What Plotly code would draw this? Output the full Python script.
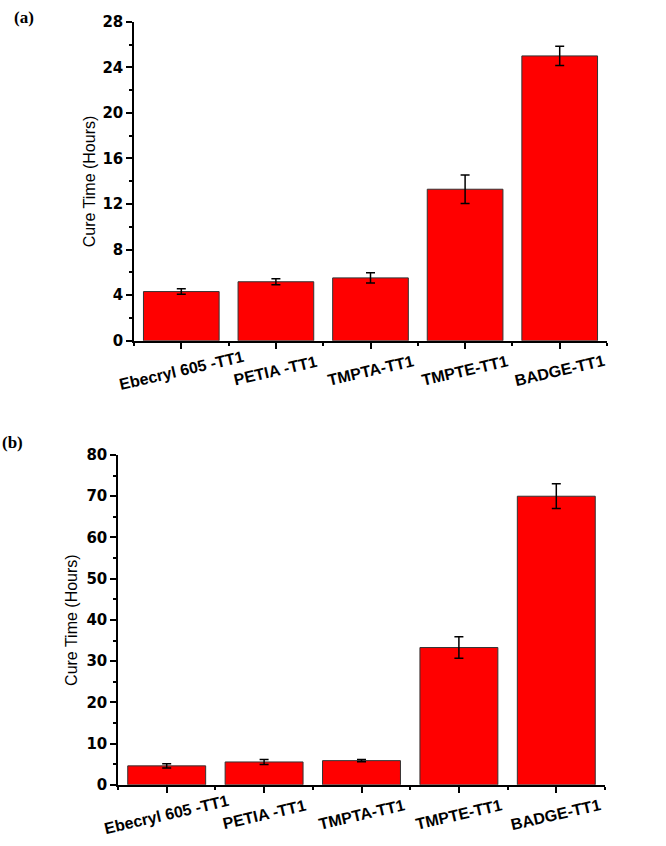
import plotly.graph_objects as go

categories = ["Ebecryl 605 -TT1", "PETIA -TT1", "TMPTA-TT1", "TMPTE-TT1", "BADGE-TT1"]
cure_a = [4.32, 5.18, 5.52, 13.3, 25.0]
err_a = [0.24, 0.26, 0.44, 1.25, 0.84]
cure_b = [4.6, 5.55, 5.87, 33.3, 70.0]
err_b = [0.5, 0.6, 0.3, 2.6, 3.0]
yticks_a = [0, 4, 8, 12, 16, 20, 24, 28]
yticks_b = [0, 10, 20, 30, 40, 50, 60, 70, 80]

W, H = 666, 846
xpos = list(range(len(categories)))

fig = go.Figure()
for vals, errs, xa, ya in [(cure_a, err_a, "x", "y"), (cure_b, err_b, "x2", "y2")]:
    fig.add_trace(go.Bar(
        x=xpos, y=vals, width=0.8, xaxis=xa, yaxis=ya,
        marker=dict(color="#ff0000", line=dict(color="#333333", width=1)),
        error_y=dict(type="data", array=errs, visible=True, color="black",
                     thickness=1.5, width=4.5),
        showlegend=False,
    ))

tickfont = dict(family="DejaVu Sans", size=15, color="black", weight="bold")

def xaxis_cfg(domain):
    return dict(domain=domain, range=[-0.5, 4.5], tickvals=xpos, showticklabels=False,
                showline=True, linecolor="black", linewidth=1.5,
                ticks="outside", ticklen=6, tickwidth=1.5, tickcolor="black",
                minor=dict(tick0=0.5, dtick=1, ticks="outside", ticklen=3,
                           tickwidth=1.5, tickcolor="black"),
                showgrid=False, zeroline=False, fixedrange=True)

def yaxis_cfg(domain, rng, tickvals, minor_dtick, anchor):
    return dict(domain=domain, range=rng, tickvals=tickvals, anchor=anchor,
                showline=True, linecolor="black", linewidth=1.5,
                ticks="outside", ticklen=6, tickwidth=1.5, tickcolor="black",
                minor=dict(dtick=minor_dtick, ticks="outside", ticklen=3,
                           tickwidth=1.5, tickcolor="black"),
                tickfont=tickfont, showgrid=False, zeroline=False, fixedrange=True)

fig.update_layout(
    width=W, height=H, margin=dict(l=0, r=0, t=0, b=0),
    paper_bgcolor="white", plot_bgcolor="white",
    xaxis=xaxis_cfg([134 / W, 607 / W]) | dict(anchor="y"),
    yaxis=yaxis_cfg([1 - 339 / H, 1 - 13 / H], [0, 28], yticks_a, 2, "x"),
    xaxis2=xaxis_cfg([118 / W, 605 / W]) | dict(anchor="y2"),
    yaxis2=yaxis_cfg([1 - 792.7 / H, 1 - 455.7 / H], [0, 80], yticks_b, 5, "x2"),
    bargap=0.2,
)

ann = []
for xr, yr in [("x", "y"), ("x2", "y2")]:
    for i, c in enumerate(categories):
        ann.append(dict(x=i, xref=xr, y=0, yref=yr + " domain", yshift=-30,
                        text=c, showarrow=False, textangle=-13,
                        xanchor="center", yanchor="middle",
                        font=dict(family="Liberation Sans", size=16, color="black",
                                  weight="bold")))

ann.append(dict(x=89 / W, xref="paper", y=0.5, yref="y domain", text="Cure Time (Hours)",
                textangle=-90, showarrow=False, xanchor="center", yanchor="middle",
                font=dict(family="Liberation Sans", size=16, color="black")))
ann.append(dict(x=72 / W, xref="paper", y=0.5, yref="y2 domain", text="Cure Time (Hours)",
                textangle=-90, showarrow=False, xanchor="center", yanchor="middle",
                font=dict(family="Liberation Sans", size=16, color="black")))
ann.append(dict(x=24 / W, xref="paper", y=1 - 9 / H, yref="paper", text="(a)",
                showarrow=False, xanchor="center", yanchor="middle",
                font=dict(family="Liberation Serif", size=17, color="black", weight="bold")))
ann.append(dict(x=12 / W, xref="paper", y=1 - 443 / H, yref="paper", text="(b)",
                showarrow=False, xanchor="center", yanchor="middle",
                font=dict(family="Liberation Serif", size=17, color="black", weight="bold")))

fig.update_layout(annotations=ann)
fig.write_html("out.html")
